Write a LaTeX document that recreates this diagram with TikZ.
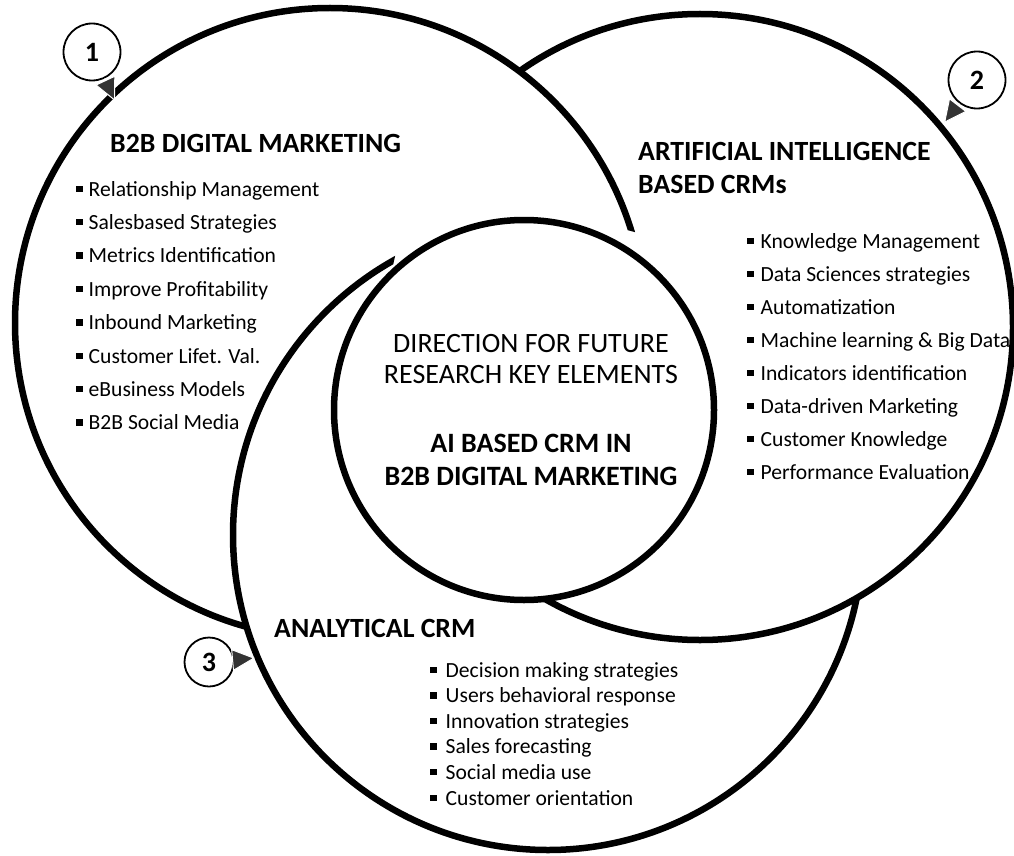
\documentclass[tikz,border=0pt]{standalone}
\usepackage{fontspec}
\setmainfont{Carlito}
\usetikzlibrary{arrows.meta}
\newcommand\sqbullet[1][6pt]{\rule[4pt]{6.5pt}{6.5pt}\hspace{#1}}
\tikzset{
  ring/.style={line width=6.5pt},
  bubble/.style={circle, draw, line width=1.8pt, inner sep=0pt, minimum size=57pt, font=\fontsize{28}{30}\bfseries\selectfont},
  pointer/.style={white, line width=1pt, -{Triangle[length=23pt, width=22pt, fill=black!80]}},
  title/.style={anchor=base west, inner sep=0pt, font=\fontsize{27.8}{33}\bfseries\selectfont},
  item/.style={anchor=base west, inner sep=0pt, font=\fontsize{21.6}{25}\selectfont},
  coretext/.style={anchor=base, inner sep=0pt, font=\fontsize{28}{31}\selectfont},
}
\begin{document}
\begin{tikzpicture}[x=1pt, y=-1pt]
			%%%%% START %%%%%
			\useasboundingbox (0,0) rectangle (1014,856);
			\fill[white] (0,0) rectangle (1014,856);
			
			\coordinate (c1) at (330,323);
			\coordinate (c2) at (700,327);
			\coordinate (c3) at (548,535);
			\coordinate (c0) at (524,410);
			
			% each ring goes under the next one
			\begin{scope}[even odd rule]
				\clip (-20,-20) rectangle (1040,880) (c3) circle[radius=315];
				\draw[ring] (c1) circle[radius=315];
			\end{scope}
			\begin{scope}[even odd rule]
				\clip (-20,-20) rectangle (1040,880) (c1) circle[radius=315];
				\draw[ring] (c2) circle[radius=313];
			\end{scope}
			\begin{scope}[even odd rule]
				\clip (-20,-20) rectangle (1040,880) (c2) circle[radius=313];
				\draw[ring] (c3) circle[radius=315];
			\end{scope}
			\draw[ring, fill=white] (c0) circle[radius=190];
			
			% numbers
			\node[bubble] (b1) at (92,52) {1};
			\node[bubble] (b2) at (977,80) {2};
			\node[bubble, minimum size=49pt] (b3) at (209,662) {3};
			\coordinate (t1) at (115,101);
			\coordinate (t2) at (944,123);
			\coordinate (t3) at (255,658);
			\draw[pointer] (b1) -- (t1);
			\draw[pointer] (b2) -- (t2);
			\draw[pointer] (b3) -- (t3);
			
			% B2B digital marketing
			\node[title] (bmtitle) at (110,153) {B2B DIGITAL MARKETING};
			\foreach \txt [count=\i] in {Relationship Management, Salesbased Strategies, Metrics Identification, Improve Profitability, Inbound Marketing, Customer Lifet. Val., eBusiness Models, B2B Social Media}
				\node[item] (bm\i) at (76,{196+33.4*(\i-1)}) {\sqbullet\txt};
			
			% AI based CRMs
			\node[title] (aititle) at (638,160) {ARTIFICIAL INTELLIGENCE};
			\node[title] (aititle2) at (638,193) {BASED CRMs};
			\foreach \txt [count=\i] in {Knowledge Management, Data Sciences strategies, Automatization, Machine learning \& Big Data, Indicators identification, Data-driven Marketing, Customer Knowledge, Performance Evaluation}
				\node[item] (ai\i) at (747,{248+33*(\i-1)}) {\sqbullet[7pt]\txt};
			
			% analytical CRM
			\node[title] (antitle) at (274,637) {ANALYTICAL CRM};
			\foreach \txt [count=\i] in {Decision making strategies, Users behavioral response, Innovation strategies, Sales forecasting, Social media use, Customer orientation}
				\node[item] (an\i) at (430,{677+25.6*(\i-1)}) {\sqbullet[9pt]\txt};
			
			% core
			\node[coretext] (core1) at (531,352) {DIRECTION FOR FUTURE};
			\node[coretext] (core2) at (531,383) {RESEARCH KEY ELEMENTS};
			\node[coretext, font=\fontsize{28}{31}\bfseries\selectfont] (core3) at (531,452) {AI BASED CRM IN};
			\node[coretext, font=\fontsize{28}{31}\bfseries\selectfont] (core4) at (531,485) {B2B DIGITAL MARKETING};
			
			%%%%% END %%%%%
\end{tikzpicture}
\end{document}
